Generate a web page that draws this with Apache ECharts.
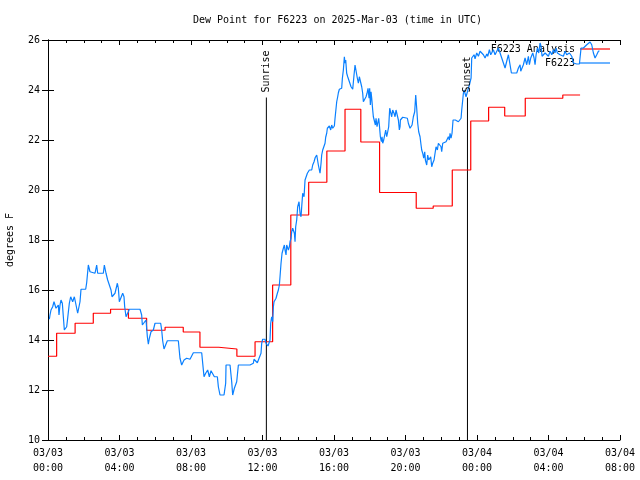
<!DOCTYPE html>
<html><head><meta charset="utf-8">
<script src="https://cdn.jsdelivr.net/npm/echarts@6/dist/echarts.min.js"></script>
<style>html,body{margin:0;padding:0;background:#fff}#c{width:640px;height:480px}</style>
</head><body><div id="c"></div>
<script>
const titleText = 'Dew Point for F6223 on 2025-Mar-03 (time in UTC)';
const yAxisName = 'degrees F';
const xTickLabels = ['03/03\n00:00','03/03\n04:00','03/03\n08:00','03/03\n12:00','03/03\n16:00','03/03\n20:00','03/04\n00:00','03/04\n04:00','03/04\n08:00'];
const seriesNames = ['F6223 Analysis', 'F6223'];

// Analysis (hourly, stepped): minutes after 03/03 00:00 where each value starts
const analysisMinutes = [0,29,91,152,210,270,331,393,454,510,573,634,695,754,815,875,936,997,1050,1113,1236,1293,1357,1419,1479,1533,1602,1728,1786];
const analysisValues = [13.35,14.27,14.67,15.07,15.23,14.87,14.39,14.51,14.32,13.71,13.64,13.35,13.93,16.2,19.0,20.31,21.56,23.23,21.92,19.9,19.27,19.36,20.8,22.76,23.31,22.96,23.67,23.8,23.8];

// Observations: minutes after 03/03 00:00
const obsMinutes = [4.5,6.7,10.1,15.7,20.1,24.6,26.9,31.3,34.7,36.9,40.3,43.6,48.1,51.5,54.8,59.3,62.7,66.0,71.6,76.1,82.8,88.4,92.9,96.2,99.6,105.2,107.4,110.8,126.5,129.8,135.4,141.0,146.6,157.8,163.4,166.7,185.8,189.1,194.7,200.3,205.9,211.5,214.9,219.3,224.9,232.8,236.1,239.5,245.1,250.7,255.1,257.4,261.9,266.3,269.7,273.0,308.9,314.4,316.7,322.3,329.0,333.5,336.8,340.2,345.8,353.6,359.2,378.2,381.6,384.9,389.4,396.1,400.6,437.5,443.1,448.7,456.6,465.5,471.1,476.7,487.9,515.9,521.5,523.7,529.3,536.0,541.6,547.2,552.8,558.4,564.0,568.5,571.8,577.4,590.8,596.4,597.6,611.0,616.6,619.9,625.5,633.4,639.0,678.1,689.3,691.5,698.2,702.7,707.2,711.7,715.0,717.3,720.6,728.4,731.8,736.3,738.5,743.0,745.2,747.5,750.8,754.2,756.5,758.7,762.1,765.4,769.9,773.3,776.6,778.8,782.2,785.6,790.0,793.4,795.6,799.0,801.2,804.6,806.8,810.2,812.4,815.8,818.0,821.4,823.6,827.0,829.2,831.4,834.8,838.1,842.6,846.0,849.3,851.6,854.9,859.4,862.8,868.4,870.6,877.3,885.2,888.5,893.0,897.0,902.0,907.5,913.1,916.5,918.7,922.1,926.5,929.9,932.1,935.5,937.7,941.1,944.4,948.9,952.3,955.6,957.9,961.2,963.5,965.7,969.1,972.4,974.7,978.0,982.5,985.8,988.1,991.4,994.8,997.0,999.3,1002.6,1006.0,1008.2,1011.6,1013.8,1017.2,1019.4,1022.8,1025.0,1027.2,1030.6,1033.9,1038.4,1041.8,1045.1,1049.6,1053.0,1056.3,1058.6,1061.9,1064.2,1067.5,1070.9,1074.2,1077.6,1079.8,1082.1,1084.3,1086.6,1089.9,1092.1,1095.5,1098.9,1101.1,1104.4,1107.8,1110.0,1112.3,1115.6,1119.0,1121.2,1123.5,1126.8,1130.2,1133.5,1136.9,1140.3,1143.6,1147.0,1150.3,1153.7,1157.0,1161.5,1164.9,1168.2,1172.7,1176.1,1179.4,1181.7,1182.8,1187.3,1190.6,1206.3,1209.6,1215.2,1218.6,1222.0,1226.4,1230.9,1234.3,1237.6,1241.0,1244.3,1248.8,1252.2,1254.4,1257.8,1261.1,1264.5,1266.7,1271.2,1274.5,1277.9,1281.3,1284.6,1288.0,1291.3,1295.8,1299.2,1302.5,1307.0,1310.4,1316.0,1319.3,1321.5,1324.9,1329.4,1336.1,1340.6,1343.9,1347.3,1349.5,1352.9,1356.2,1359.6,1364.1,1367.4,1377.5,1383.1,1386.5,1388.7,1392.1,1394.3,1396.5,1399.9,1403.2,1405.5,1407.7,1411.1,1414.4,1416.7,1420.1,1422.3,1427.9,1430.1,1433.5,1439.1,1444.7,1450.3,1455.9,1461.5,1467.1,1472.7,1476.0,1481.6,1486.1,1489.4,1495.0,1500.6,1506.2,1511.8,1517.4,1523.0,1528.6,1534.2,1539.8,1545.4,1548.7,1551.0,1555.5,1559.9,1573.4,1579.0,1584.6,1586.8,1590.1,1595.7,1601.3,1606.9,1612.5,1615.9,1620.4,1623.7,1627.1,1631.5,1634.9,1638.3,1642.7,1647.2,1651.7,1655.0,1658.4,1662.9,1668.5,1674.1,1679.7,1685.3,1690.9,1696.5,1702.0,1705.4,1709.9,1718.8,1724.4,1730.0,1735.6,1741.2,1750.2,1758.0,1763.6,1774.8,1783.7,1789.3,1797.2,1808.4,1819.5,1825.1,1830.7,1836.3,1841.9,1847.5,1850.9];
const obsValues = [14.83,15.0,15.2,15.33,15.53,15.53,15.27,15.27,15.4,15.0,15.4,15.6,15.47,14.93,14.4,14.4,14.53,14.87,15.47,15.73,15.53,15.73,15.47,15.53,15.07,15.07,15.53,16.03,16.03,16.29,17.0,16.73,16.67,16.67,17.0,16.67,16.67,17.0,16.67,16.4,16.33,16.0,15.73,15.67,15.87,16.27,16.07,15.53,15.6,15.87,15.73,15.33,14.93,14.93,15.13,15.23,15.23,15.0,14.6,14.64,14.8,14.13,13.83,14.07,14.33,14.4,14.67,14.67,14.4,13.97,13.64,13.67,13.97,13.97,13.27,13.0,13.2,13.27,13.33,13.23,13.49,13.49,12.8,12.53,12.67,12.8,12.53,12.77,12.77,12.53,12.49,12.53,12.13,11.8,11.8,12.27,13.0,13.0,12.33,11.8,12.07,12.33,13.0,13.0,13.07,13.23,13.23,13.09,13.23,13.27,13.47,13.87,14.03,14.03,13.87,13.89,13.76,13.73,14.0,14.67,14.93,14.73,15.33,15.53,15.47,15.67,15.87,16.0,16.2,16.53,17.07,17.47,17.67,17.8,17.6,17.4,17.8,17.87,17.6,17.73,17.93,18.07,18.33,18.47,18.53,18.27,17.93,18.53,18.8,19.33,19.53,19.07,18.93,19.33,19.87,19.73,20.4,20.47,20.67,20.8,20.8,21.0,21.13,21.3,21.4,21.0,20.67,21.07,21.4,21.6,21.64,21.87,22.11,22.27,22.47,22.4,22.56,22.4,22.6,22.47,22.4,22.56,22.87,23.13,23.53,23.73,23.89,24.03,24.11,24.07,24.47,24.8,25.33,25.07,25.2,24.67,24.53,24.47,24.33,24.27,24.13,24.2,24.03,24.11,24.6,25.0,25.0,24.47,24.27,24.53,24.47,24.13,23.87,23.53,23.47,23.6,23.73,23.87,24.07,23.67,24.07,23.4,23.93,23.67,23.2,22.93,22.87,22.6,22.87,22.53,22.73,22.87,22.6,22.13,21.93,22.13,21.87,22.0,22.2,22.4,22.13,22.33,22.53,23.27,23.2,22.93,23.2,23.07,22.93,23.2,23.27,22.8,22.4,22.53,22.8,22.87,22.91,22.87,22.67,22.47,22.4,22.6,22.93,23.13,23.8,23.27,22.67,22.33,22.13,21.8,21.6,21.47,21.27,21.53,21.2,21.0,21.4,21.2,21.13,21.33,20.93,21.07,21.2,21.47,21.73,21.6,21.87,21.93,21.73,21.53,21.87,21.93,21.93,22.0,22.13,22.0,22.27,22.07,22.27,22.8,22.73,22.8,22.73,22.67,22.87,23.2,23.6,23.87,24.0,23.93,23.73,23.67,23.8,24.07,24.2,24.13,24.48,25.28,25.35,25.41,25.25,25.48,25.35,25.55,25.61,25.41,25.28,25.44,25.35,25.61,25.41,25.48,25.61,25.41,25.48,25.68,25.48,25.28,25.08,24.88,25.15,25.41,25.48,25.35,24.68,24.68,24.68,24.88,25.01,24.75,24.68,25.01,25.28,25.01,25.35,25.01,25.28,25.35,25.48,25.28,25.01,25.41,25.68,25.48,25.88,25.75,25.35,25.28,25.48,25.55,25.35,25.55,25.41,25.61,25.48,25.68,25.48,25.41,25.48,25.35,25.55,25.41,25.48,25.35,25.08,25.04,25.04,25.68,25.68,25.81,25.92,25.81,25.48,25.28,25.41,25.55,25.57];

const sunEventNames = ['Sunrise', 'Sunset'];
const sunEventMinutes = [733, 1408];

const FONT = '"DejaVu Sans Mono", "Liberation Mono", monospace';
const toH = m => m / 60;
const analysisData = analysisMinutes.map((m, i) => [toH(m), analysisValues[i]]);
const obsData = obsMinutes.map((m, i) => [toH(m), obsValues[i]]);
const SUN_TOP = 23.7;
const Y_MIN = 10, Y_MAX = 26;
const RED = '#ff0000', BLUE = '#0a80ff';

const tickCommon = {
  axisLine: { show: true, lineStyle: { color: '#000', width: 1 } },
  axisTick: { show: true, inside: true, length: 5, lineStyle: { color: '#000' } },
  splitLine: { show: false }
};

const chart = echarts.init(document.getElementById('c'), null, { renderer: 'canvas' });
const sunSeries = sunEventMinutes.map((m, i) => ({
  name: sunEventNames[i], type: 'line', silent: true, symbol: 'none',
  lineStyle: { color: '#000', width: 1 }, z: 1,
  data: [[toH(m), Y_MIN], [toH(m), SUN_TOP]]
}));

chart.setOption({
  animation: false,
  backgroundColor: '#fff',
  title: { text: titleText, left: 188, top: 10, textStyle: { fontFamily: FONT, fontSize: 10, fontWeight: 'normal', color: '#000' } },
  grid: { left: 48, right: 20, top: 40, bottom: 40, containLabel: false, outerBoundsMode: 'none' },
  legend: {
    data: seriesNames.map((n, i) => ({ name: n, icon: 'rect', itemStyle: { color: i === 0 ? RED : BLUE } })),
    right: 30, top: 43, padding: 0, orient: 'vertical', align: 'right',
    itemWidth: 30, itemHeight: 1.2, itemGap: 2,
    textStyle: { fontFamily: FONT, fontSize: 10, color: '#000', lineHeight: 12 }
  },
  xAxis: [
    Object.assign({}, tickCommon, {
      type: 'value', position: 'bottom', min: 0, max: 32, interval: 4,
      minorTick: { show: true, splitNumber: 4, length: 3, lineStyle: { color: '#000' } },
      axisLabel: { fontFamily: FONT, fontSize: 10, color: '#000', lineHeight: 15, margin: 6,
        showMinLabel: true, showMaxLabel: true,
        formatter: v => xTickLabels[Math.round(v / 4)] }
    }),
    Object.assign({}, tickCommon, {
      type: 'value', position: 'top', min: 0, max: 32, interval: 4,
      minorTick: { show: true, splitNumber: 4, length: 3, lineStyle: { color: '#000' } },
      axisLabel: { show: false }
    })
  ],
  yAxis: [
    Object.assign({}, tickCommon, {
      type: 'value', position: 'left', min: Y_MIN, max: Y_MAX, interval: 2,
      axisTick: { show: true, inside: true, length: 6, lineStyle: { color: '#000' } },
      name: yAxisName, nameLocation: 'middle', nameGap: 33,
      nameTextStyle: { fontFamily: FONT, fontSize: 10, color: '#000' },
      axisLabel: { fontFamily: FONT, fontSize: 10, color: '#000', margin: 8 }
    }),
    Object.assign({}, tickCommon, {
      type: 'value', position: 'right', min: Y_MIN, max: Y_MAX, interval: 2,
      axisTick: { show: true, inside: true, length: 6, lineStyle: { color: '#000' } },
      axisLabel: { show: false }
    })
  ],
  series: [
    { name: seriesNames[0], type: 'line', step: 'end', symbol: 'none', showSymbol: false,
      lineStyle: { color: RED, width: 1.2 }, itemStyle: { color: RED }, data: analysisData, z: 3 },
    { name: seriesNames[1], type: 'line', symbol: 'none', showSymbol: false,
      lineStyle: { color: BLUE, width: 1.2 }, itemStyle: { color: BLUE }, data: obsData, z: 4 }
  ].concat(sunSeries)
});

const labels = sunEventMinutes.map((m, i) => {
  const p = chart.convertToPixel({ xAxisIndex: 0, yAxisIndex: 0 }, [toH(m), SUN_TOP]);
  return { type: 'text', x: p[0], y: p[1] - 5, rotation: Math.PI / 2, z: 10,
    style: { text: sunEventNames[i], font: '10px ' + FONT, fill: '#000', align: 'left', verticalAlign: 'middle' } };
});
chart.setOption({ graphic: labels });
</script>
</body></html>
